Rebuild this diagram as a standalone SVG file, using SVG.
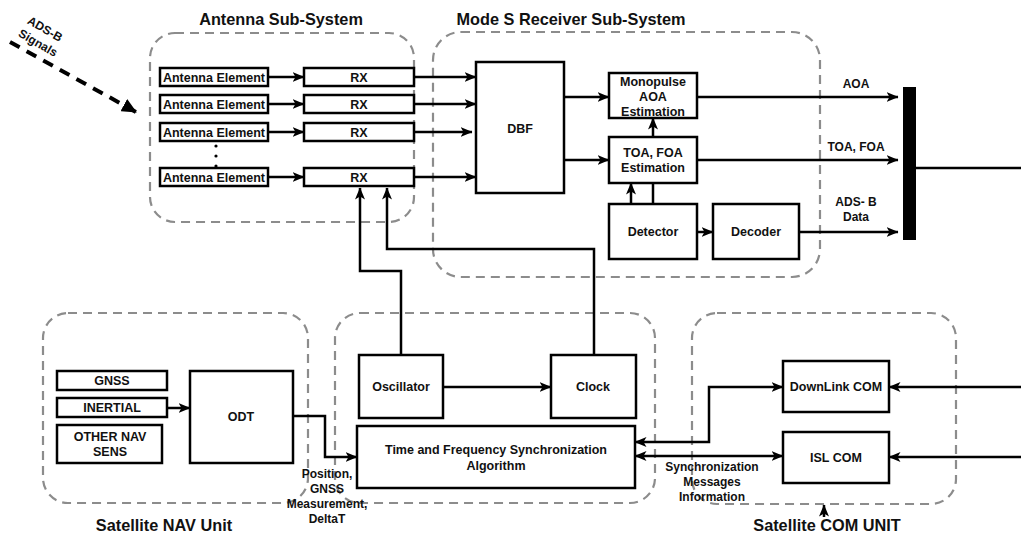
<svg xmlns="http://www.w3.org/2000/svg" width="1021" height="534" viewBox="0 0 1021 534">
<style>
.box{fill:#fff;stroke:#000;stroke-width:2.5}
.grp{fill:none;stroke:#8c8c8c;stroke-width:2.2;stroke-dasharray:9 6}
.ln{fill:none;stroke:#000;stroke-width:2.5}
.t{font-family:"Liberation Sans",Arial,sans-serif;font-weight:bold;font-size:12.5px;text-anchor:middle;fill:#111}
.title{font-family:"Liberation Sans",Arial,sans-serif;font-weight:bold;font-size:16.3px;text-anchor:middle;fill:#111}
.lab{font-family:"Liberation Sans",Arial,sans-serif;font-weight:bold;font-size:12px;text-anchor:middle;fill:#111}
</style>
<defs>
<marker id="arr" markerUnits="userSpaceOnUse" markerWidth="13" markerHeight="11" refX="11.5" refY="5" orient="auto">
<path d="M0,0 L12,5 L0,10 L3,5 Z" fill="#000"/>
</marker>
<marker id="arrs" markerUnits="userSpaceOnUse" markerWidth="13" markerHeight="11" refX="0.5" refY="5" orient="auto">
<path d="M12,0 L0,5 L12,10 L9,5 Z" fill="#000"/>
</marker>
<marker id="tri" markerUnits="userSpaceOnUse" markerWidth="16" markerHeight="14" refX="14" refY="7" orient="auto">
<path d="M0,0 L15,7 L0,14 Z" fill="#000"/>
</marker>
</defs>

<g id="groups">
<rect class="grp" x="150" y="33" width="264" height="189" rx="25"/>
<rect class="grp" x="433" y="32" width="387" height="245" rx="28"/>
<rect class="grp" x="43" y="313" width="265" height="190" rx="25"/>
<rect class="grp" x="335" y="313" width="320" height="190" rx="25"/>
<rect class="grp" x="692" y="313" width="264" height="191" rx="25"/>
<text class="title" x="281" y="25">Antenna Sub-System</text>
<text class="title" x="571" y="25">Mode S Receiver Sub-System</text>
<text class="title" x="164" y="531">Satellite NAV Unit</text>
<text class="title" x="827" y="531">Satellite COM UNIT</text>
</g>

<g id="connectors">
<line class="ln" x1="268" y1="77" x2="304" y2="77" marker-end="url(#arr)"/>
<line class="ln" x1="268" y1="104" x2="304" y2="104" marker-end="url(#arr)"/>
<line class="ln" x1="268" y1="132" x2="304" y2="132" marker-end="url(#arr)"/>
<line class="ln" x1="268" y1="177" x2="304" y2="177" marker-end="url(#arr)"/>
<line class="ln" x1="414" y1="77" x2="476" y2="77" marker-end="url(#arr)"/>
<line class="ln" x1="414" y1="104" x2="476" y2="104" marker-end="url(#arr)"/>
<line class="ln" x1="414" y1="132" x2="472" y2="132" marker-end="url(#arr)"/>
<line class="ln" x1="414" y1="177" x2="476" y2="177" marker-end="url(#arr)"/>
<line class="ln" x1="564" y1="97" x2="609" y2="97" marker-end="url(#arr)"/>
<line class="ln" x1="564" y1="160" x2="609" y2="160" marker-end="url(#arr)"/>
<line class="ln" x1="653" y1="137" x2="653" y2="118" marker-end="url(#arr)"/>
<line class="ln" x1="631" y1="204" x2="631" y2="183" marker-end="url(#arr)"/>
<line class="ln" x1="653" y1="204" x2="653" y2="183"/>
<line class="ln" x1="697" y1="232" x2="713" y2="232" marker-end="url(#arr)"/>
<line class="ln" x1="697" y1="97" x2="898" y2="97" marker-end="url(#arr)"/>
<line class="ln" x1="697" y1="160" x2="898" y2="160" marker-end="url(#arr)"/>
<line class="ln" x1="799" y1="232" x2="898" y2="232" marker-end="url(#arr)"/>
<line class="ln" x1="916" y1="168" x2="1021" y2="168"/>
<polyline class="ln" points="401,355 401,271 360,271 360,188" marker-end="url(#arr)"/>
<polyline class="ln" points="594,355 594,249 387,249 387,188" marker-end="url(#arr)"/>
<line class="ln" x1="167" y1="408" x2="190" y2="408" marker-end="url(#arr)"/>
<polyline class="ln" points="293,416 325,416 325,457 357,457" marker-end="url(#arr)"/>
<line class="ln" x1="443" y1="387" x2="551" y2="387" marker-end="url(#arr)"/>
<polyline class="ln" points="635,442 709,442 709,387 783,387" marker-start="url(#arrs)" marker-end="url(#arr)"/>
<line class="ln" x1="635" y1="456" x2="783" y2="456" marker-start="url(#arrs)" marker-end="url(#arr)"/>
<line class="ln" x1="1021" y1="387" x2="889" y2="387" marker-end="url(#arr)"/>
<line class="ln" x1="1021" y1="457" x2="889" y2="457" marker-end="url(#arr)"/>
<line class="ln" x1="824" y1="517" x2="824" y2="505" marker-end="url(#arr)"/>
<line x1="10" y1="42" x2="136" y2="112" stroke="#000" stroke-width="4" stroke-dasharray="11 8" marker-end="url(#tri)"/>
<text class="lab" x="856" y="88">AOA</text>
<text class="lab" x="856" y="151">TOA, FOA</text>
<text class="lab" x="856" y="206">ADS- B</text>
<text class="lab" x="856" y="221">Data</text>
<text class="lab" x="327" y="478">Position,</text>
<text class="lab" x="327" y="493">GNSS</text>
<text class="lab" x="327" y="508">Measurement,</text>
<text class="lab" x="327" y="523">DeltaT</text>
<text class="lab" x="712" y="471">Synchronization</text>
<text class="lab" x="712" y="486">Messages</text>
<text class="lab" x="712" y="501">Information</text>
<text class="lab" x="45" y="33" font-size="11" transform="rotate(30 45 29)">ADS-B</text>
<text class="lab" x="38" y="47" font-size="11" transform="rotate(30 38 43)">Signals</text>
</g>

<g id="ant1"><rect class="box" x="160" y="68" width="108" height="18" stroke-width="3"/><text class="t" x="214" y="82">Antenna Element</text></g>
<g id="ant2"><rect class="box" x="160" y="95" width="108" height="18" stroke-width="3"/><text class="t" x="214" y="109">Antenna Element</text></g>
<g id="ant3"><rect class="box" x="160" y="123" width="108" height="18" stroke-width="3"/><text class="t" x="214" y="137">Antenna Element</text></g>
<g id="antn"><rect class="box" x="160" y="168" width="108" height="18" stroke-width="3"/><text class="t" x="214" y="182">Antenna Element</text></g>
<g id="dots"><circle cx="216" cy="146" r="1.6" fill="#000"/><circle cx="216" cy="156" r="1.6" fill="#000"/><circle cx="216" cy="166" r="1.6" fill="#000"/></g>
<g id="rx1"><rect class="box" x="304" y="68" width="110" height="18"/><text class="t" x="359" y="82">RX</text></g>
<g id="rx2"><rect class="box" x="304" y="95" width="110" height="18"/><text class="t" x="359" y="109">RX</text></g>
<g id="rx3"><rect class="box" x="304" y="123" width="110" height="18"/><text class="t" x="359" y="137">RX</text></g>
<g id="rxn"><rect class="box" x="304" y="168" width="110" height="18"/><text class="t" x="359" y="182">RX</text></g>
<g id="dbf"><rect class="box" x="476" y="62" width="88" height="131"/><text class="t" x="520" y="133">DBF</text></g>
<g id="monopulse"><rect class="box" x="609" y="73" width="88" height="45"/><text class="t" x="653" y="86">Monopulse</text><text class="t" x="653" y="101">AOA</text><text class="t" x="653" y="116">Estimation</text></g>
<g id="toafoa"><rect class="box" x="609" y="137" width="88" height="46"/><text class="t" x="653" y="157">TOA, FOA</text><text class="t" x="653" y="172">Estimation</text></g>
<g id="detector"><rect class="box" x="609" y="204" width="88" height="55"/><text class="t" x="653" y="236">Detector</text></g>
<g id="decoder"><rect class="box" x="713" y="204" width="86" height="55"/><text class="t" x="756" y="236">Decoder</text></g>
<g id="bar"><rect x="903" y="87" width="13" height="153" fill="#000"/></g>
<g id="gnss"><rect class="box" x="57" y="371" width="110" height="19"/><text class="t" x="112" y="385">GNSS</text></g>
<g id="inertial"><rect class="box" x="57" y="398" width="110" height="19"/><text class="t" x="112" y="412">INERTIAL</text></g>
<g id="othernav"><rect class="box" x="57" y="425" width="105" height="38"/><text class="t" x="110" y="441">OTHER NAV</text><text class="t" x="110" y="456">SENS</text></g>
<g id="odt"><rect class="box" x="190" y="371" width="103" height="92"/><text class="t" x="241" y="421">ODT</text></g>
<g id="oscillator"><rect class="box" x="359" y="355" width="84" height="63"/><text class="t" x="401" y="391">Oscillator</text></g>
<g id="clock"><rect class="box" x="551" y="355" width="85" height="63"/><text class="t" x="593" y="391">Clock</text></g>
<g id="tfsync"><rect class="box" x="357" y="426" width="278" height="62"/><text class="t" x="496" y="454">Time and Frequency Synchronization</text><text class="t" x="496" y="470">Algorithm</text></g>
<g id="downlink"><rect class="box" x="783" y="361" width="106" height="51"/><text class="t" x="836" y="391">DownLink COM</text></g>
<g id="islcom"><rect class="box" x="783" y="432" width="106" height="51"/><text class="t" x="836" y="462">ISL COM</text></g>
</svg>
